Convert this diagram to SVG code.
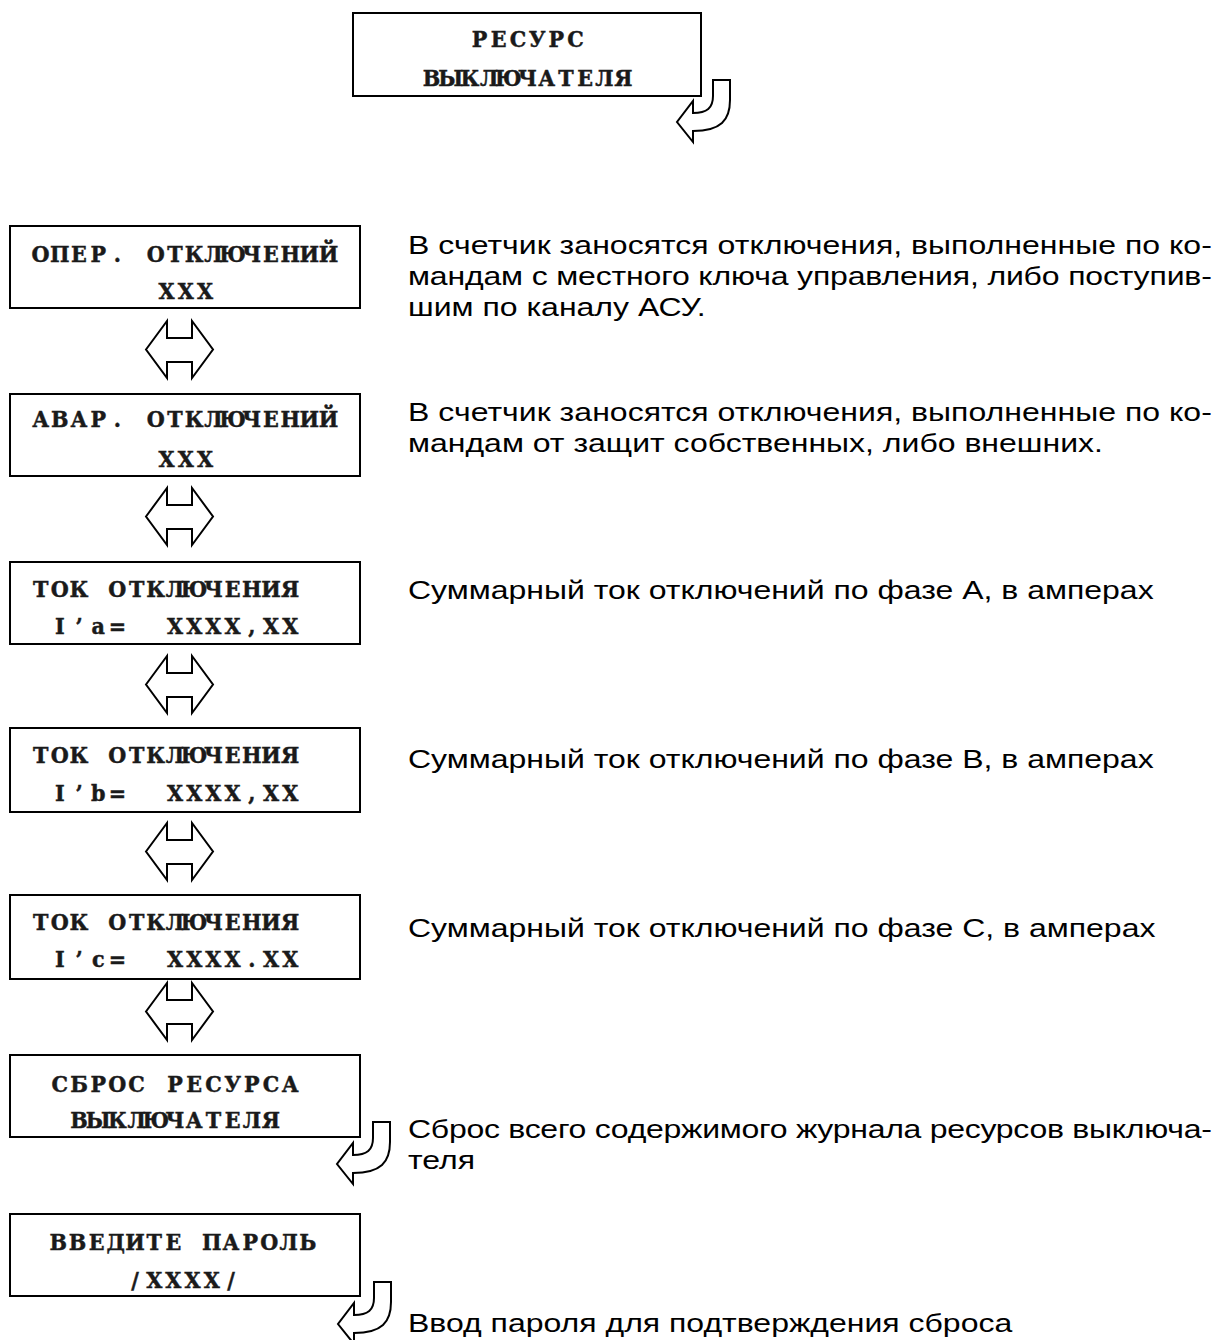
<svg xmlns="http://www.w3.org/2000/svg" width="1229" height="1340" viewBox="0 0 1229 1340">
<style>
.box{fill:#fff;stroke:#000;stroke-width:2}
.arr{fill:#fff;stroke:#000;stroke-width:2;stroke-linejoin:miter}
.lcd{font-family:"DejaVu Serif","Liberation Serif",serif;font-weight:bold;font-size:23px;fill:#1a1a1a;stroke:#1a1a1a;stroke-width:0.5;text-anchor:middle}
.desc{font-family:"Liberation Sans",Arial,sans-serif;font-size:25px;fill:#000}
</style>
<defs>
<path id="dbl" d="M0,28.5 L21,0 V17 H46 V0 L67,28.5 L46,57 V41 H21 V57 Z"/>
<path id="ent" d="M0,0 H17 V20 C17,40 8,51 -20,51 V62 L-36,42 L-20,21 V33 C-6,33 0,28 0,16 Z"/>
</defs>
<rect width="1229" height="1340" fill="#fff"/>

<g id="connectors">
<use href="#ent" class="arr" x="713" y="80"/>
<use href="#dbl" class="arr" x="146" y="321"/>
<use href="#dbl" class="arr" x="146" y="488"/>
<use href="#dbl" class="arr" x="146" y="656"/>
<use href="#dbl" class="arr" x="146" y="823"/>
<use href="#dbl" class="arr" x="146" y="983"/>
<use href="#ent" class="arr" x="373" y="1122"/>
<use href="#ent" class="arr" x="374" y="1282"/>
</g>

<g id="node-resurs">
<rect class="box" x="353" y="13" width="348" height="83"/>
<g transform="scale(0.9,1)">
<text class="lcd" y="47" x="532.78 554.11 575.44 596.78 618.11 639.44">РЕСУРС</text>
<text class="lcd" y="86" x="479.44 500.78 522.11 543.44 564.78 586.11 607.44 628.78 650.11 671.44 692.78">ВЫКЛЮЧАТЕЛЯ</text>
</g>
</g>

<g id="node-oper">
<rect class="box" x="10" y="226" width="350" height="82"/>
<g transform="scale(0.9,1)">
<text class="lcd" y="262" x="45.11 66.44 87.78 109.11 130.44 151.78 173.11 194.44 215.78 237.11 258.44 279.78 301.11 322.44 343.78 365.11">ОПЕР. ОТКЛЮЧЕНИЙ</text>
<text class="lcd" y="299" x="185.11 206.44 227.78">XXX</text>
</g>
</g>

<g id="node-avar">
<rect class="box" x="10" y="394" width="350" height="82"/>
<g transform="scale(0.9,1)">
<text class="lcd" y="427" x="45.11 66.44 87.78 109.11 130.44 151.78 173.11 194.44 215.78 237.11 258.44 279.78 301.11 322.44 343.78 365.11">АВАР. ОТКЛЮЧЕНИЙ</text>
<text class="lcd" y="467" x="185.11 206.44 227.78">XXX</text>
</g>
</g>

<g id="node-tok-a">
<rect class="box" x="10" y="562" width="350" height="82"/>
<g transform="scale(0.9,1)">
<text class="lcd" y="597" x="45.11 66.44 87.78 109.11 130.44 151.78 173.11 194.44 215.78 237.11 258.44 279.78 301.11 322.44">ТОК ОТКЛЮЧЕНИЯ</text>
<text class="lcd" xml:space="preserve" y="634" x="66.44 87.78 109.11 130.44 151.78 173.11 194.44 215.78 237.11 258.44 279.78 301.11 322.44">I’a=  XXXX,XX</text>
</g>
</g>

<g id="node-tok-b">
<rect class="box" x="10" y="728" width="350" height="84"/>
<g transform="scale(0.9,1)">
<text class="lcd" y="763" x="45.11 66.44 87.78 109.11 130.44 151.78 173.11 194.44 215.78 237.11 258.44 279.78 301.11 322.44">ТОК ОТКЛЮЧЕНИЯ</text>
<text class="lcd" xml:space="preserve" y="801" x="66.44 87.78 109.11 130.44 151.78 173.11 194.44 215.78 237.11 258.44 279.78 301.11 322.44">I’b=  XXXX,XX</text>
</g>
</g>

<g id="node-tok-c">
<rect class="box" x="10" y="895" width="350" height="84"/>
<g transform="scale(0.9,1)">
<text class="lcd" y="930" x="45.11 66.44 87.78 109.11 130.44 151.78 173.11 194.44 215.78 237.11 258.44 279.78 301.11 322.44">ТОК ОТКЛЮЧЕНИЯ</text>
<text class="lcd" xml:space="preserve" y="967" x="66.44 87.78 109.11 130.44 151.78 173.11 194.44 215.78 237.11 258.44 279.78 301.11 322.44">I’c=  XXXX.XX</text>
</g>
</g>

<g id="node-sbros">
<rect class="box" x="10" y="1055" width="350" height="82"/>
<g transform="scale(0.9,1)">
<text class="lcd" y="1092" x="66.44 87.78 109.11 130.44 151.78 173.11 194.44 215.78 237.11 258.44 279.78 301.11 322.44">СБРОС РЕСУРСА</text>
<text class="lcd" y="1128" x="87.78 109.11 130.44 151.78 173.11 194.44 215.78 237.11 258.44 279.78 301.11">ВЫКЛЮЧАТЕЛЯ</text>
</g>
</g>

<g id="node-parol">
<rect class="box" x="10" y="1214" width="350" height="82"/>
<g transform="scale(0.9,1)">
<text class="lcd" y="1250" x="64.67 86 107.33 128.67 150 171.33 192.67 214 235.33 256.67 278 299.33 320.67 342">ВВЕДИТЕ ПАРОЛЬ</text>
<text class="lcd" y="1288" x="150 171.33 192.67 214 235.33 256.67">/XXXX/</text>
</g>
</g>

<g id="descriptions">
<text class="desc" transform="translate(408,254) scale(1.28,1)" textLength="628" lengthAdjust="spacing">В счетчик заносятся отключения, выполненные по ко-</text>
<text class="desc" transform="translate(408,285) scale(1.28,1)" textLength="628" lengthAdjust="spacing">мандам с местного ключа управления, либо поступив-</text>
<text class="desc" transform="translate(408,316) scale(1.28,1)">шим по каналу АСУ.</text>
<text class="desc" transform="translate(408,421) scale(1.28,1)" textLength="628" lengthAdjust="spacing">В счетчик заносятся отключения, выполненные по ко-</text>
<text class="desc" transform="translate(408,452) scale(1.28,1)">мандам от защит собственных, либо внешних.</text>
<text class="desc" transform="translate(408,599) scale(1.28,1)">Суммарный ток отключений по фазе А, в амперах</text>
<text class="desc" transform="translate(408,768) scale(1.28,1)">Суммарный ток отключений по фазе В, в амперах</text>
<text class="desc" transform="translate(408,937) scale(1.28,1)">Суммарный ток отключений по фазе С, в амперах</text>
<text class="desc" transform="translate(408,1138) scale(1.28,1)" textLength="628" lengthAdjust="spacing">Сброс всего содержимого журнала ресурсов выключа-</text>
<text class="desc" transform="translate(408,1169) scale(1.28,1)">теля</text>
<text class="desc" transform="translate(408,1332) scale(1.28,1)">Ввод пароля для подтверждения сброса</text>
</g>
</svg>
